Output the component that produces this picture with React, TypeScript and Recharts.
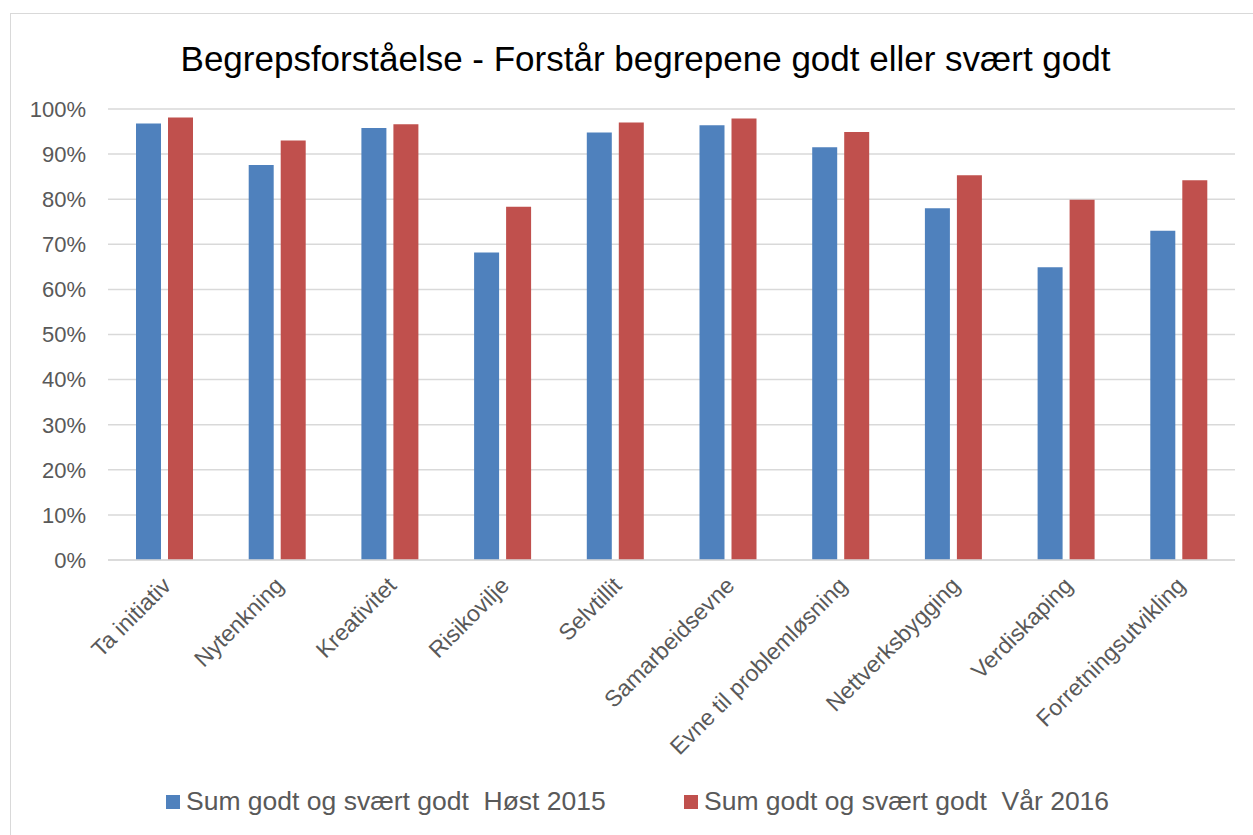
import React from 'react';
import {
  BarChart,
  Bar,
  XAxis,
  YAxis,
  CartesianGrid,
  Legend
} from 'recharts';

const CATEGORIES = [
  'Ta initiativ',
  'Nytenkning',
  'Kreativitet',
  'Risikovilje',
  'Selvtillit',
  'Samarbeidsevne',
  'Evne til problemløsning',
  'Nettverksbygging',
  'Verdiskaping',
  'Forretningsutvikling'
];

const HOST_2015 = [96.8, 87.6, 95.8, 68.2, 94.8, 96.4, 91.5, 78.0, 64.9, 73.0];
const VAR_2016 = [98.1, 93.0, 96.6, 78.3, 97.0, 97.9, 94.9, 85.3, 79.9, 84.2];

const Y_TICKS = [0, 10, 20, 30, 40, 50, 60, 70, 80, 90, 100];

const SERIES_NAMES = [
  'Sum godt og svært godt\u00a0 Høst 2015',
  'Sum godt og svært godt\u00a0 Vår 2016'
];

const COLORS = ['#4F81BD', '#C0504D'];

const FONT = '"Liberation Sans", Arial, sans-serif';

const chartData = CATEGORIES.map((name, i) => ({
  name,
  host: HOST_2015[i],
  var: VAR_2016[i]
}));

const AngledTick = (props: any) => {
  const { x, y, payload } = props;
  const ax = x + 8;
  const ay = y + 19;
  return (
    <text
      x={ax}
      y={ay}
      textAnchor="end"
      fill="#595959"
      fontSize={23}
      fontFamily={FONT}
      transform={`rotate(-45, ${ax}, ${ay})`}
    >
      {payload.value}
    </text>
  );
};

const renderLegend = (props: any) => {
  const { payload } = props;
  return (
    <div style={{ display: 'flex', fontFamily: FONT, fontSize: 26.5, color: '#595959', lineHeight: '29px' }}>
      {(payload || []).map((entry: any, i: number) => (
        <div
          key={`leg-${i}`}
          style={{ display: 'flex', alignItems: 'center', width: i === 0 ? 518 : 'auto' }}
        >
          <span
            style={{
              display: 'inline-block',
              width: 14,
              height: 14,
              background: entry.color,
              marginRight: 6
            }}
          />
          <span style={{ whiteSpace: 'pre' }}>{entry.value}</span>
        </div>
      ))}
    </div>
  );
};

export default function App() {
  return (
    <div
      style={{
        position: 'absolute',
        left: 0,
        top: 0,
        width: 1253,
        height: 835,
        overflow: 'hidden',
        background: '#fff'
      }}
    >
      <div
        style={{
          position: 'absolute',
          left: 10,
          top: 13,
          width: 1300,
          height: 900,
          border: '1.5px solid #D9D9D9'
        }}
      />
      <div
        style={{
          position: 'absolute',
          left: 0,
          top: 39,
          width: 1291,
          textAlign: 'center',
          fontFamily: FONT,
          fontSize: 35,
          color: '#000'
        }}
      >
        Begrepsforståelse - Forstår begrepene godt eller svært godt
      </div>
      <div style={{ position: 'absolute', left: 0, top: 0 }}>
        <BarChart
          width={1253}
          height={835}
          data={chartData}
          margin={{ top: 109, right: 18, bottom: 0, left: 8 }}
          barSize={25}
          barGap={7}
        >
          <CartesianGrid vertical={false} stroke="#D9D9D9" strokeWidth={1.5} />
          <XAxis
            dataKey="name"
            interval={0}
            tickLine={false}
            axisLine={{ stroke: '#D9D9D9', strokeWidth: 1.5 }}
            tick={<AngledTick />}
            height={246}
          />
          <YAxis
            width={100}
            domain={[0, 100]}
            ticks={Y_TICKS}
            tickFormatter={(v: number) => `${v}%`}
            axisLine={false}
            tickLine={false}
            tickMargin={16}
            tick={{ fill: '#595959', fontSize: 22, fontFamily: FONT }}
          />
          <Legend
            content={renderLegend}
            wrapperStyle={{ left: 166, top: 787, width: 1000 }}
          />
          <Bar
            dataKey="host"
            name={SERIES_NAMES[0]}
            fill={COLORS[0]}
            isAnimationActive={false}
          />
          <Bar
            dataKey="var"
            name={SERIES_NAMES[1]}
            fill={COLORS[1]}
            isAnimationActive={false}
          />
        </BarChart>
      </div>
    </div>
  );
}
